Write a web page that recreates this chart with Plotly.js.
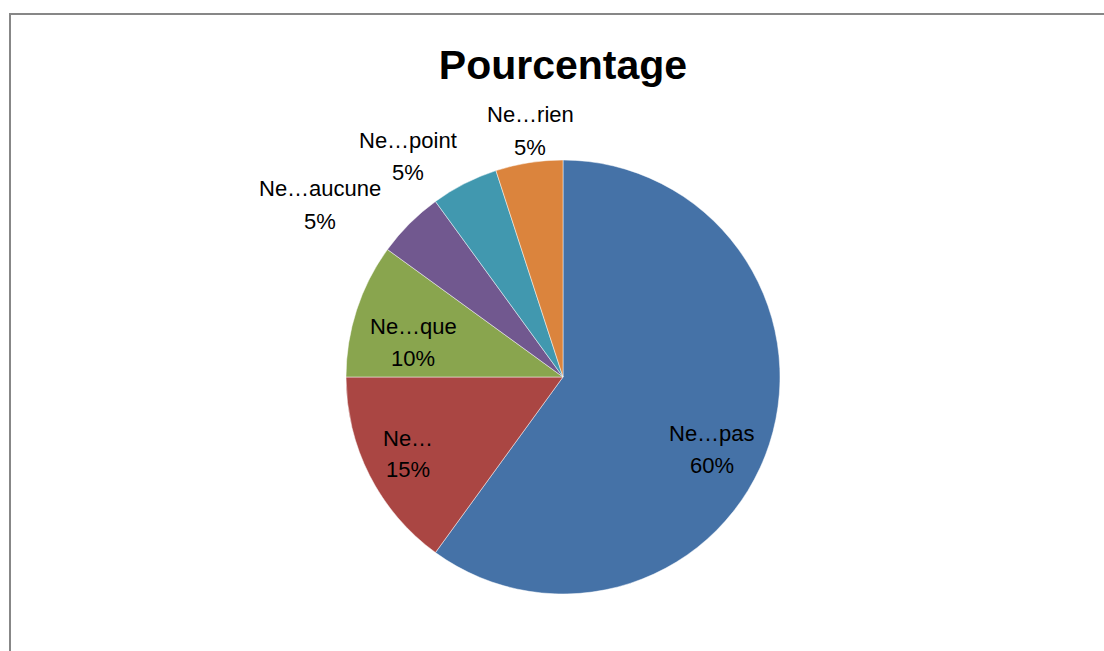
<!DOCTYPE html>
<html>
<head>
<meta charset="utf-8">
<script src="https://cdn.plot.ly/plotly-3.0.1.min.js"></script>
<style>
html,body{margin:0;padding:0;background:#fff;overflow:hidden;}
#frame{position:absolute;left:9px;top:13px;width:1200px;height:800px;border-left:2px solid #878787;border-top:2px solid #878787;box-sizing:border-box;pointer-events:none;z-index:5;}
#chart{position:absolute;left:0;top:0;width:1104px;height:651px;}
</style>
</head>
<body>
<div id="chart"></div>
<div id="frame"></div>
<script>
const categories = ["Ne…pas", "Ne…", "Ne…que", "Ne…aucune", "Ne…point", "Ne…rien"];
const values = [60, 15, 10, 5, 5, 5];
const colors = ["#4572A7", "#AA4643", "#89A54E", "#71588F", "#4198AF", "#DB843D"];

const W = 1104, H = 651;
const cx = 563, cy = 377, r = 217;
// label anchor positions (pixels, layout only)
const labelAnchors = [[712, 449], [408, 454], [413, 342], [320, 205], [408, 156], [530, 131]];
const lineGap = 32;

const total = values.reduce((a, b) => a + b, 0);
const FONT = "Liberation Sans, Arial, sans-serif";

const data = [{
  type: "pie",
  labels: categories,
  values: values,
  sort: false,
  direction: "clockwise",
  rotation: 0,
  marker: {colors: colors, line: {color: "rgba(255,255,255,0.6)", width: 0.8}},
  textinfo: "none",
  hoverinfo: "label+percent",
  domain: {x: [(cx - r) / W, (cx + r) / W], y: [(H - cy - r) / H, (H - cy + r) / H]},
  automargin: false,
  showlegend: false
}];

const annotations = [];
categories.forEach((c, i) => {
  const pct = Math.round(values[i] / total * 100) + "%";
  [[c, -lineGap / 2], [pct, lineGap / 2]].forEach(([t, off]) => {
    annotations.push({
      xref: "paper", yref: "paper",
      x: labelAnchors[i][0] / W, y: 1 - (labelAnchors[i][1] + off) / H,
      xanchor: "center", yanchor: "middle",
      text: t, showarrow: false, align: "center",
      font: {family: FONT, size: 22, color: "#000"}
    });
  });
});

const layout = {
  width: W, height: H,
  margin: {l: 0, r: 0, t: 0, b: 0},
  paper_bgcolor: "#fff",
  showlegend: false,
  annotations: annotations,
  title: {
    text: "<b>Pourcentage</b>",
    font: {family: FONT, size: 41, color: "#000"},
    x: cx / W, xanchor: "center",
    y: 1 - 65 / H, yanchor: "middle"
  }
};

Plotly.newPlot("chart", data, layout, {displayModeBar: false, staticPlot: true});
</script>
</body>
</html>
